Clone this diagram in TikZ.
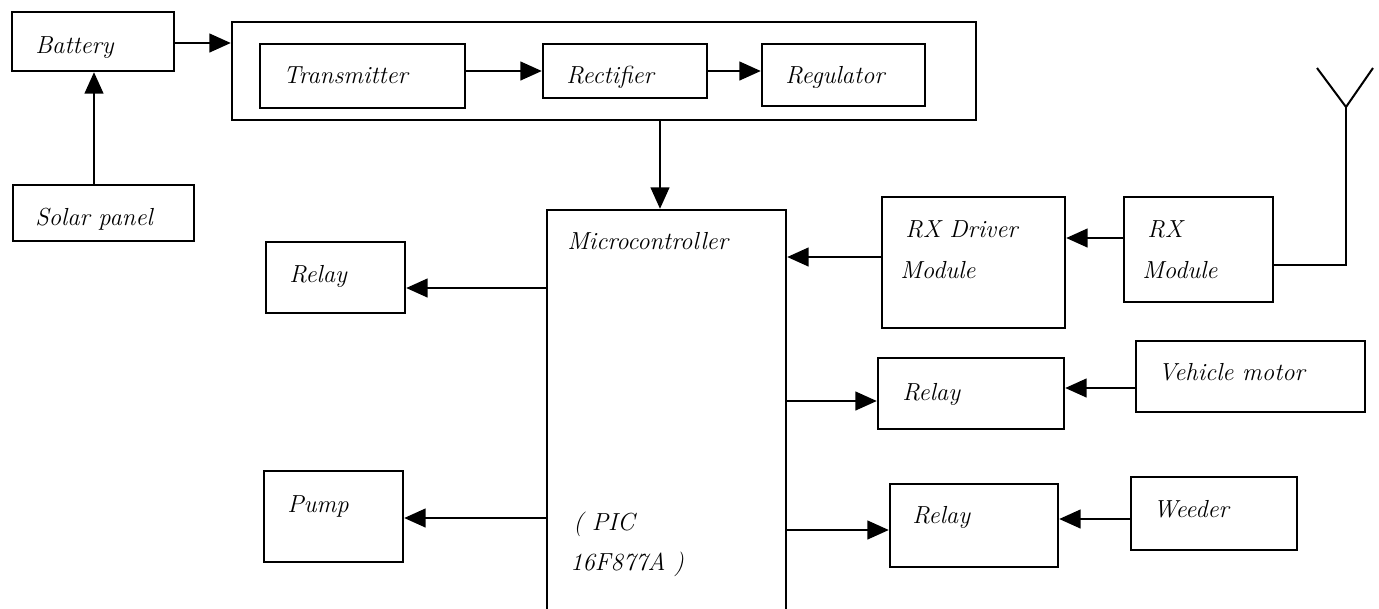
\documentclass[tikz,border=0pt]{standalone}
\usetikzlibrary{fit,arrows.meta}
\begin{document}
\begin{tikzpicture}[x=0.75pt,y=-0.75pt,
  box/.style={draw, line width=1.8pt, inner sep=0pt, rectangle},
  lbl/.style={anchor=base west, inner sep=0pt,
    font=\fontsize{18.5}{22}\selectfont\itshape},
  arr/.style={line width=1.5pt, -{Triangle[length=16pt,width=14pt]}},
  wire/.style={line width=1.5pt}]
\useasboundingbox (0,0) rectangle (1379,608);
\clip (0,0) rectangle (1379,608);

% power chain
\node[box, fit={(12,12) (174,71)}] (bat) {};
\node[lbl] (batL) at (35,53) {Battery};
\node[box, fit={(13,185) (194,241)}] (sol) {};
\node[lbl] (solL) at (35,225) {Solar panel};
\node[box, fit={(232,22) (976,120)}] (pwr) {};
\node[box, fit={(260,44) (465,108)}] (tx) {};
\node[lbl] (txL) at (283,83) {Transmitter};
\node[box, fit={(543,44) (707,98)}] (rect) {};
\node[lbl] (rectL) at (566,83) {Rectifier};
\node[box, fit={(762,44) (925,106)}] (reg) {};
\node[lbl] (regL) at (785,83) {Regulator};

% controller (runs off the bottom edge)
\node[box, fit={(547,210) (786,660)}] (mcu) {};
\node[lbl] (mcuL) at (567,249) {Microcontroller};
\node[lbl] (picA) at (573,530) {( PIC};
\node[lbl] (picB) at (570,570) {16F877A )};

% outputs on the left
\node[box, fit={(266,242) (405,313)}] (relL) {};
\node[lbl] (relLL) at (289,282) {Relay};
\node[box, fit={(264,471) (403,562)}] (pump) {};
\node[lbl] (pumpL) at (287,512) {Pump};

% receiver side
\node[box, fit={(882,197) (1065,328)}] (rxd) {};
\node[lbl] (rxdA) at (905,237) {RX Driver};
\node[lbl] (rxdB) at (900,278) {Module};
\node[box, fit={(1124,197) (1273,302)}] (rxm) {};
\node[lbl] (rxmA) at (1147,237) {RX};
\node[lbl] (rxmB) at (1142,278) {Module};

% relays on the right
\node[box, fit={(878,358) (1064,429)}] (relM) {};
\node[lbl] (relML) at (902,400) {Relay};
\node[box, fit={(1136,341) (1365,412)}] (veh) {};
\node[lbl] (vehL) at (1158,380) {Vehicle motor};
\node[box, fit={(890,484) (1058,567)}] (relB) {};
\node[lbl] (relBL) at (912,523) {Relay};
\node[box, fit={(1131,477) (1297,550)}] (weed) {};
\node[lbl] (weedL) at (1153,517) {Weeder};

% antenna
\coordinate (antBase) at (1346,265);
\coordinate (antV) at (1346,107);
\coordinate (antLt) at (1317,68);
\coordinate (antRt) at (1373,68);
\draw[wire] (rxm.east |- antBase) -- (antBase) -- (antV);
\draw[wire, line join=miter] (antLt) -- (antV) -- (antRt);

% connectors
\draw[arr] (bat.east |- 0,43) -- (pwr.west |- 0,43);
\draw[arr] (sol.north -| 94,0) -- (bat.south -| 94,0);
\draw[arr] (tx.east |- 0,71) -- (rect.west |- 0,71);
\draw[arr] (rect.east |- 0,71) -- (reg.west |- 0,71);
\draw[arr] (pwr.south -| 660,0) -- (mcu.north -| 660,0);
\draw[arr] (rxm.west |- 0,238) -- (rxd.east |- 0,238);
\draw[arr] (rxd.west |- 0,257) -- (mcu.east |- 0,257);
\draw[arr] (mcu.west |- 0,288) -- (relL.east |- 0,288);
\draw[arr] (mcu.west |- 0,518) -- (pump.east |- 0,518);
\draw[arr] (mcu.east |- 0,401) -- (relM.west |- 0,401);
\draw[arr] (veh.west |- 0,388) -- (relM.east |- 0,388);
\draw[arr] (mcu.east |- 0,530) -- (relB.west |- 0,530);
\draw[arr] (weed.west |- 0,519) -- (relB.east |- 0,519);
\end{tikzpicture}
\end{document}
